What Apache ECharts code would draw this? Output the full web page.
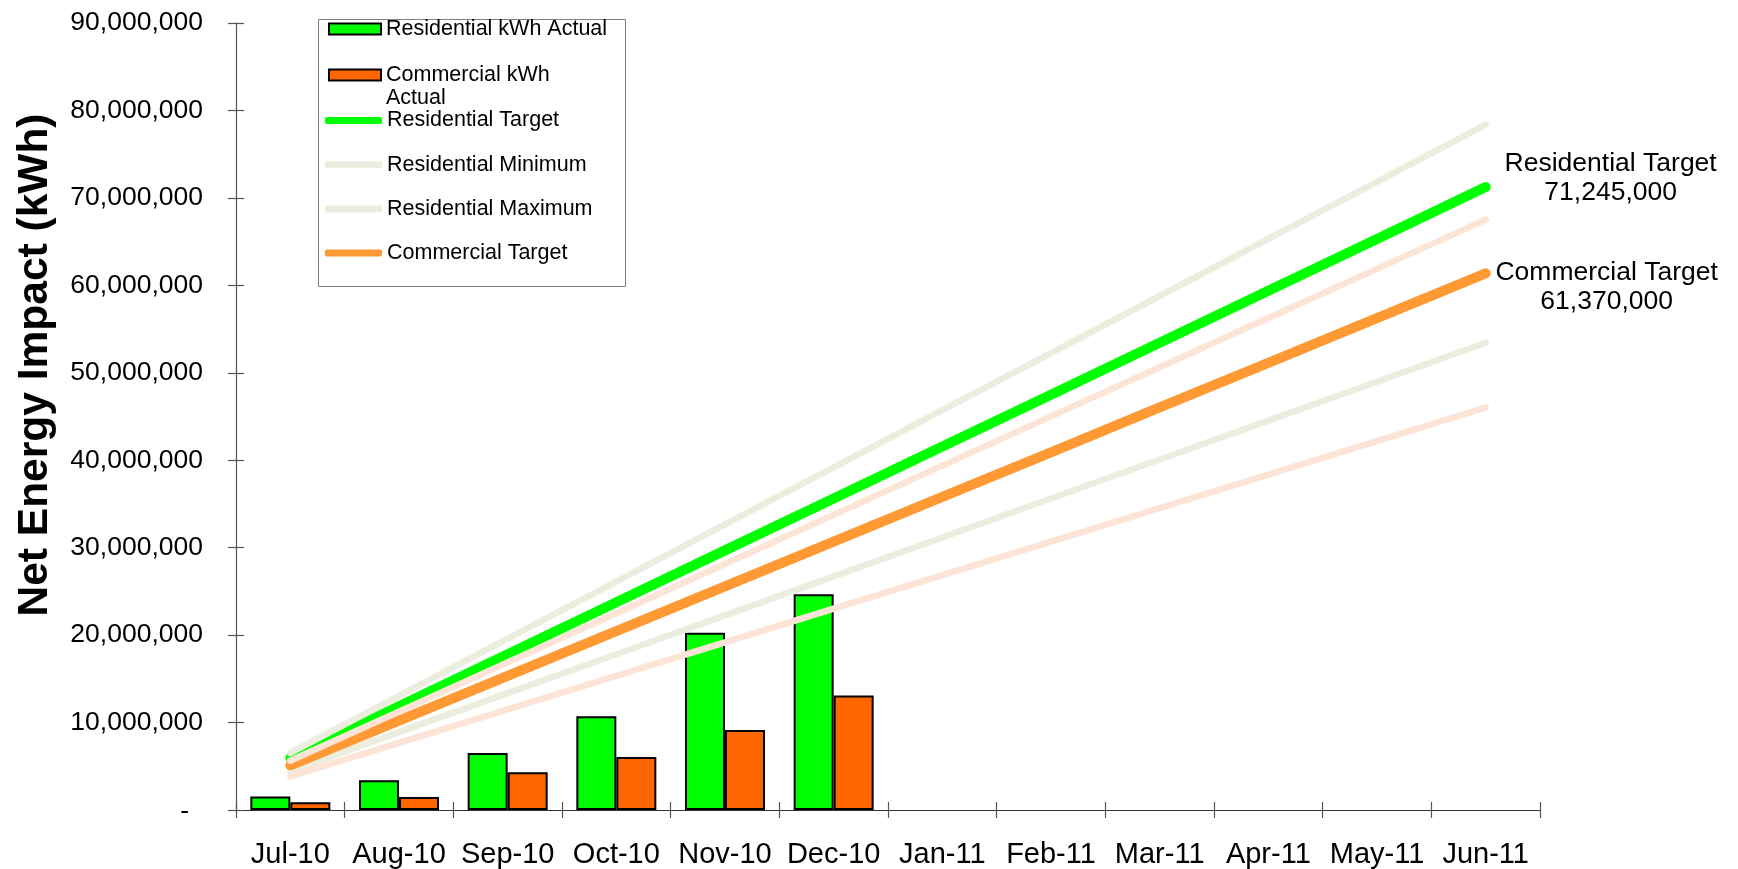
<!DOCTYPE html>
<html><head><meta charset="utf-8">
<script src="https://cdn.jsdelivr.net/npm/echarts@6/dist/echarts.min.js"></script>
<style>html,body{margin:0;padding:0;background:#fff}#c{width:1738px;height:869px}</style>
</head><body><div id="c"></div>
<script>
const categories = ['Jul-10','Aug-10','Sep-10','Oct-10','Nov-10','Dec-10','Jan-11','Feb-11','Mar-11','Apr-11','May-11','Jun-11'];
const resActual = [1530000, 3400000, 6530000, 10730000, 20270000, 24660000];
const comActual = [880000, 1490000, 4310000, 6070000, 9160000, 13090000];
const resTarget = [5940000, 11870000, 17810000, 23750000, 29690000, 35620000, 41560000, 47500000, 53430000, 59370000, 65310000, 71245000];
const resMin = [4450000, 8910000, 13360000, 17810000, 22260000, 26720000, 31170000, 35620000, 40080000, 44530000, 48980000, 53430000];
const resMax = [6530000, 13060000, 19590000, 26120000, 32660000, 39190000, 45720000, 52250000, 58780000, 65310000, 71840000, 78370000];
const comTarget = [5110000, 10230000, 15340000, 20460000, 25570000, 30690000, 35800000, 40910000, 46030000, 51140000, 56260000, 61370000];
const comMin = [3840000, 7670000, 11510000, 15340000, 19180000, 23020000, 26850000, 30690000, 34520000, 38360000, 42190000, 46030000];
const comMax = [5630000, 11250000, 16880000, 22500000, 28130000, 33750000, 39380000, 45010000, 50630000, 56260000, 61880000, 67510000];
const yMin = 0, yMax = 90000000, yStep = 10000000;

const FONT = '"Liberation Sans", Arial, sans-serif';
const C = {
  resBar: '#00FF00', comBar: '#FF6600', resT: '#00FF00', comT: '#FF9933',
  resBand: '#EBEEDF', comBand: '#FCE4D6'
};
const fmt = v => Number(v).toLocaleString('en-US');

const chart = echarts.init(document.getElementById('c'), null, {renderer: 'canvas'});

function lineSeries(name, data, color, width, extra) {
  return Object.assign({
    name, type: 'line', data, symbol: 'none', smooth: false, z: 3,
    lineStyle: {color, width, cap: 'round', join: 'round'},
    itemStyle: {color}, emphasis: {disabled: true}
  }, extra || {});
}
function endLbl(name, dx, dy) {
  return {
    show: true, distance: 0, offset: [dx, dy], align: 'center', verticalAlign: 'middle',
    fontFamily: FONT, fontSize: 26.5, lineHeight: 29, color: '#000',
    formatter: p => name + '\n' + fmt(p.value)
  };
}

const option = {
  animation: false,
  backgroundColor: '#fff',
  grid: {left: 236, right: 198, top: 23, bottom: 59, containLabel: false},
  xAxis: [{
    type: 'category', data: categories, boundaryGap: true,
    axisLine: {show: true, lineStyle: {color: '#333', width: 1.2}},
    axisTick: {show: true, length: 8, lineStyle: {color: '#555', width: 1.2}},
    axisLabel: {fontFamily: FONT, fontSize: 29, color: '#000', margin: 30, interval: 0},
    splitLine: {show: false}
  }, {
    type: 'category', data: categories, boundaryGap: true, position: 'bottom',
    axisLine: {show: false},
    axisTick: {show: true, inside: true, length: 8, lineStyle: {color: '#555', width: 1.2}},
    axisLabel: {show: false}, splitLine: {show: false}
  }],
  yAxis: [{
    type: 'value', min: yMin, max: yMax, interval: yStep,
    axisLine: {show: true, lineStyle: {color: '#555', width: 1.2}},
    axisTick: {show: true, length: 8, lineStyle: {color: '#555', width: 1.2}},
    splitLine: {show: false},
    axisLabel: {
      fontFamily: FONT, fontSize: 26.5, color: '#000', margin: 33,
      formatter: v => v === 0 ? '{z|-}' : fmt(v),
      rich: {z: {fontFamily: FONT, fontSize: 26.5, color: '#000', padding: [4, 14, 0, 0]}}
    }
  }, {
    type: 'value', min: yMin, max: yMax, interval: yStep, position: 'left',
    axisLine: {show: false},
    axisTick: {show: true, inside: true, length: 8, lineStyle: {color: '#555', width: 1.2}},
    axisLabel: {show: false}, splitLine: {show: false}
  }],
  legend: [{
    orient: 'vertical', left: 328, top: 17.5, padding: 0, itemGap: 0, itemTextGap: 6,
    itemWidth: 52, itemHeight: 11, selectedMode: false,
    textStyle: {fontFamily: FONT, fontSize: 21.5, lineHeight: 23, color: '#000'},
    formatter: n => n === 'Commercial kWh Actual' ? '\nCommercial kWh\nActual' : n,
    data: [
      {name: 'Residential kWh Actual', icon: 'rect'},
      {name: 'Commercial kWh Actual', icon: 'rect'}
    ]
  }, {
    orient: 'vertical', left: 325, top: 109, padding: 0, itemGap: 21.2, itemTextGap: 4,
    itemWidth: 57, itemHeight: 7, selectedMode: false,
    textStyle: {fontFamily: FONT, fontSize: 21.5, lineHeight: 23, color: '#000'},
    data: [
      {name: 'Residential Target', icon: 'roundRect', itemStyle: {color: C.resT, borderWidth: 0}},
      {name: 'Residential Minimum', icon: 'roundRect', itemStyle: {color: C.resBand, borderWidth: 0}},
      {name: 'Residential Maximum', icon: 'roundRect', itemStyle: {color: C.resBand, borderWidth: 0}},
      {name: 'Commercial Target', icon: 'roundRect', itemStyle: {color: C.comT, borderWidth: 0}}
    ]
  }],
  graphic: [{
    type: 'rect', z: -1, silent: true,
    shape: {x: 318.5, y: 19.5, width: 307, height: 267},
    style: {fill: '#fff', stroke: '#7f7f7f', lineWidth: 1}
  }, {
    type: 'text', x: 35, y: 365, rotation: Math.PI / 2, silent: true,
    style: {text: 'Net Energy Impact (kWh)', font: 'bold 42.5px ' + FONT, fill: '#000', align: 'center', verticalAlign: 'middle'}
  }],
  series: [
    {name: 'Residential kWh Actual', type: 'bar', data: resActual, barWidth: 40, barGap: '0%', z: 2,
      itemStyle: {color: C.resBar, borderColor: '#000', borderWidth: 2}, emphasis: {disabled: true}},
    {name: 'Commercial kWh Actual', type: 'bar', data: comActual, barWidth: 40, barGap: '0%', z: 2,
      itemStyle: {color: C.comBar, borderColor: '#000', borderWidth: 2}, emphasis: {disabled: true}},
    lineSeries('Residential Target', resTarget, C.resT, 10, {endLabel: endLbl('Residential Target', 125, -9)}),
    lineSeries('Residential Minimum', resMin, C.resBand, 6.5),
    lineSeries('Residential Maximum', resMax, C.resBand, 6.5),
    lineSeries('Commercial Target', comTarget, C.comT, 10, {endLabel: endLbl('Commercial Target', 121, 14)}),
    lineSeries('Commercial Minimum', comMin, C.comBand, 6.5),
    lineSeries('Commercial Maximum', comMax, C.comBand, 6.5)
  ]
};
chart.setOption(option);
</script></body></html>
